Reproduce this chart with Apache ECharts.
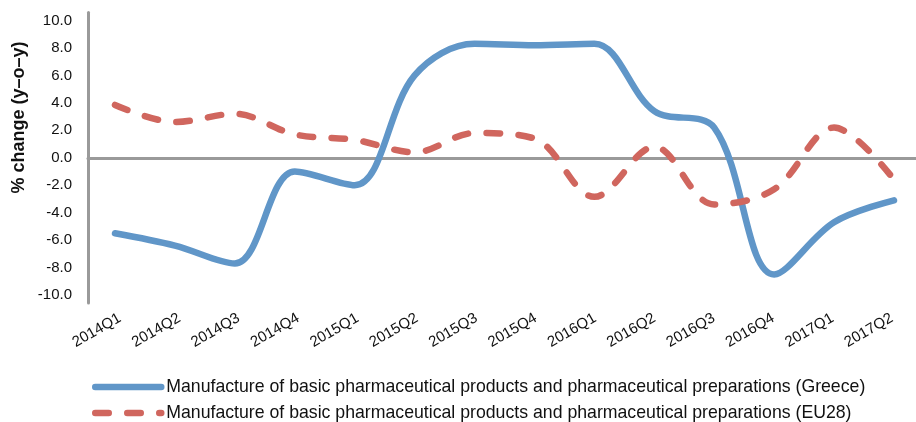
<!DOCTYPE html>
<html>
<head>
<meta charset="utf-8">
<script src="https://cdn.jsdelivr.net/npm/echarts@6/dist/echarts.min.js"></script>
<style>html,body{margin:0;padding:0;background:#fff}#c{width:916px;height:422px}</style>
</head>
<body>
<div id="c"></div>
<script>
const categories = ['2014Q1','2014Q2','2014Q3','2014Q4','2015Q1','2015Q2','2015Q3','2015Q4','2016Q1','2016Q2','2016Q3','2016Q4','2017Q1','2017Q2'];
const greece = [-5.5, -6.4, -7.7, -1.0, -2.0, 6.0, 8.3, 8.2, 8.3, 3.4, 2.2, -8.5, -4.7, -3.1];
const eu28 = [3.85, 2.6, 3.2, 1.7, 1.3, 0.4, 1.8, 1.4, -2.85, 0.8, -3.4, -2.3, 2.2, -1.6];
const seriesNames = [
  'Manufacture of basic pharmaceutical products and pharmaceutical preparations (Greece)',
  'Manufacture of basic pharmaceutical products and pharmaceutical preparations (EU28)'
];
const yTitle = '% change (y\u2013o\u2013y)';

const FONT = 'Liberation Sans, Arial, Helvetica, sans-serif';
const GRAY = '#9a9a9a';
const BLUE = '#6096c8';
const RED = '#d0665e';
const DASH = [13.5, 18.5];

const chart = echarts.init(document.getElementById('c'));
chart.setOption({
  animation: false,
  backgroundColor: '#fff',
  grid: [
    {left: 88, right: 0, top: 20.5, bottom: 127},
    {left: 88, right: 0, top: 12.5, bottom: 119},
    {left: 115, right: 22, top: 20.5, bottom: 127},
    {left: 120, right: 24, top: 20.5, bottom: 127}
  ],
  xAxis: [
    {gridIndex: 0, type: 'value', min: 0, max: 1, axisLabel: {show: false}, axisTick: {show: false}, splitLine: {show: false},
     axisLine: {show: true, onZero: true, lineStyle: {color: GRAY, width: 3}}},
    {gridIndex: 1, type: 'value', show: false},
    {gridIndex: 2, type: 'category', data: categories, boundaryGap: false, show: false},
    {gridIndex: 3, type: 'category', data: categories, boundaryGap: false, position: 'bottom',
     axisLine: {show: false}, axisTick: {show: false}, splitLine: {show: false},
     axisLabel: {rotate: 30, margin: 22, interval: 0, fontSize: 15, color: '#111', fontFamily: FONT}}
  ],
  yAxis: [
    {gridIndex: 0, type: 'value', min: -10, max: 10, interval: 2, splitLine: {show: false}, axisTick: {show: false},
     axisLine: {show: false},
     axisLabel: {margin: 16, fontSize: 15, color: '#111', fontFamily: FONT, formatter: v => v.toFixed(1)}},
    {gridIndex: 1, type: 'value', min: 0, max: 1, axisLabel: {show: false}, axisTick: {show: false}, splitLine: {show: false},
     axisLine: {show: true, lineStyle: {color: GRAY, width: 3}}},
    {gridIndex: 2, type: 'value', min: -10, max: 10, show: false},
    {gridIndex: 3, type: 'value', min: -10, max: 10, show: false}
  ],
  graphic: [{
    type: 'text', x: 19.5, y: 117.5, rotation: Math.PI / 2,
    style: {text: yTitle, fill: '#111', font: 'bold 18px ' + FONT, textAlign: 'center', textVerticalAlign: 'middle'}
  }],
  legend: {
    orient: 'vertical', left: 92, top: 378, width: 820, height: 80, padding: 0, itemWidth: 66, itemHeight: 14, itemGap: 8,
    itemStyle: {opacity: 0},
    textStyle: {fontSize: 17.7, color: '#111', fontFamily: FONT, lineHeight: 18},
    data: [
      {name: seriesNames[0], lineStyle: {width: 6.5, color: BLUE, type: 'solid', cap: 'round'}},
      {name: seriesNames[1], lineStyle: {width: 6.5, color: RED, type: DASH, cap: 'round'}}
    ]
  },
  series: [
    {name: seriesNames[0], type: 'line', xAxisIndex: 2, yAxisIndex: 2, data: greece, smooth: 0.35,
     symbol: 'none', color: BLUE, lineStyle: {color: BLUE, width: 6.5, cap: 'round', join: 'round'}},
    {name: seriesNames[1], type: 'line', xAxisIndex: 2, yAxisIndex: 2, data: eu28, smooth: 0.35,
     symbol: 'none', color: RED, lineStyle: {color: RED, width: 6.5, type: DASH, cap: 'round', join: 'round'}}
  ]
});
</script>
</body>
</html>
